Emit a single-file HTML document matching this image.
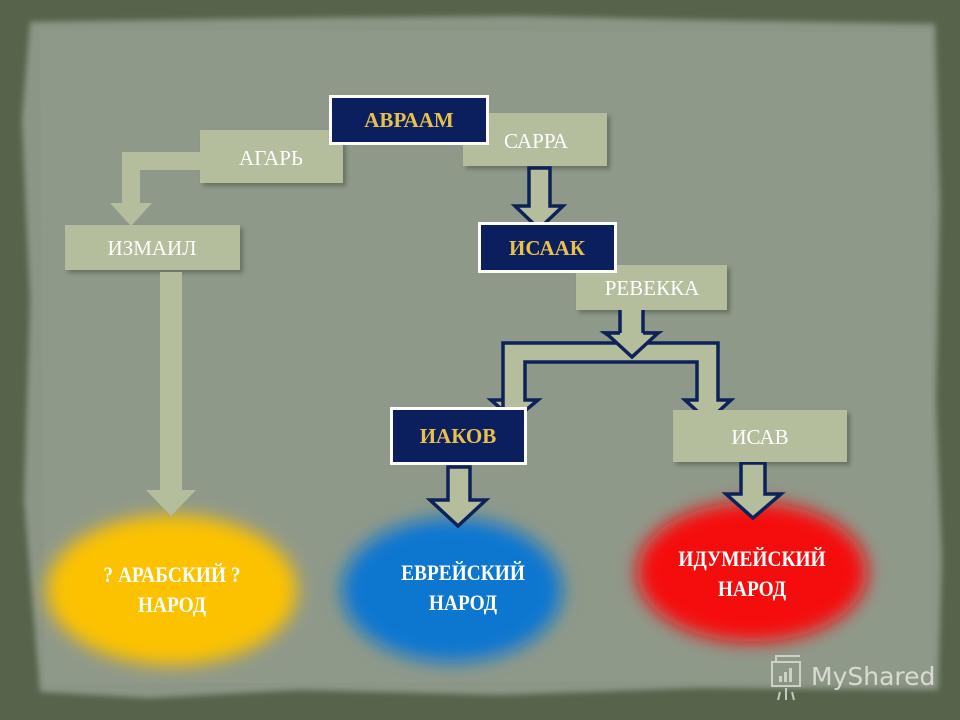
<!DOCTYPE html>
<html><head><meta charset="utf-8"><style>
html,body{margin:0;padding:0;background:#56644b;}
svg{display:block}
text{font-family:"Liberation Serif","DejaVu Serif",serif;}
</style></head><body>
<svg width="960" height="720" viewBox="0 0 960 720" xmlns="http://www.w3.org/2000/svg">
<defs>
<filter id="blur" x="-30%" y="-30%" width="160%" height="160%"><feGaussianBlur stdDeviation="9"/></filter>
<filter id="sh" x="-10%" y="-10%" width="130%" height="140%"><feGaussianBlur stdDeviation="2"/></filter>
<filter id="pb"><feGaussianBlur stdDeviation="3"/></filter>
</defs>
<rect width="960" height="720" fill="#56644b"/>
<path d="M30 22 L300 18 L520 16 L700 20 L935 24 L940 200 L936 400 L942 560 L938 690 L700 688 L500 695 L300 690 L150 698 L40 692 L24 500 L30 300 L22 120 Z" fill="#8c9687" filter="url(#pb)"/>
<path d="M40 30 L930 32 L932 680 L45 684 Z" fill="#8f998a"/>

<ellipse cx="172" cy="590" rx="125" ry="75" fill="#fcc200" filter="url(#blur)"/>
<ellipse cx="452" cy="590" rx="110" ry="72" fill="#1177d0" filter="url(#blur)"/>
<ellipse cx="752" cy="572" rx="115" ry="70" fill="#f50a0a" filter="url(#blur)"/>

<g filter="url(#sh)" fill="#4c5644" opacity="0.6">
<rect x="203" y="133" width="143" height="53"/><rect x="466" y="116" width="144" height="53"/>
<rect x="68" y="228" width="175" height="45"/><rect x="579" y="268" width="151" height="45"/>
<rect x="676" y="413" width="174" height="52"/>
</g>

<path d="M200 152 L122 152 L122 203 L110 203 L131 226 L152 203 L140 203 L140 170 L200 170 Z" fill="#b4be9c"/>
<path d="M160 272 L182 272 L182 490 L196 490 L171 516 L146 490 L160 490 Z" fill="#b4be9c"/>

<g fill="#b4be9c" stroke="#0c2258" stroke-width="3.5" stroke-linejoin="miter">
<path d="M529 168 L550 168 L550 206 L563 206 L539 229 L515 206 L529 206 Z"/>
<path d="M503 414 L503 343 L620 343 L605 333 L620 333 L620 305 L643 305 L643 333 L658 333 L643 343 L718 343 L718 400 L731 400 L708 421 L685 400 L697 400 L697 362 L525 362 L525 400 L538 400 L514 420 L491 400 L503 400"/>
<path d="M448 467 L470 467 L470 500 L486 500 L458 526 L430 500 L448 500 Z"/>
<path d="M741 463 L765 463 L765 494 L781 494 L753 518 L726 494 L741 494 Z"/>
</g>
<path d="M620 333 L606 333 L632 357 L658 333 L643 333" fill="#b4be9c" stroke="#0c2258" stroke-width="3.5"/>

<rect x="200" y="130" width="143" height="53" fill="#b4be9c"/>
<rect x="463" y="113" width="144" height="53" fill="#b4be9c"/>
<rect x="65" y="225" width="175" height="45" fill="#b4be9c"/>
<rect x="576" y="265" width="151" height="45" fill="#b4be9c"/>
<rect x="673" y="410" width="174" height="52" fill="#b4be9c"/>
<rect x="330.5" y="96.5" width="157" height="47" fill="#0b1f5e" stroke="#fff" stroke-width="3"/>
<rect x="479.5" y="223.5" width="136" height="48" fill="#0b1f5e" stroke="#fff" stroke-width="3"/>
<rect x="391.5" y="408.5" width="134" height="55" fill="#0b1f5e" stroke="#fff" stroke-width="3"/>

<g fill="#fff" font-size="21" text-anchor="middle">
<text x="271" y="165">АГАРЬ</text>
<text x="536" y="148">САРРА</text>
<text x="152" y="255">ИЗМАИЛ</text>
<text x="652" y="295">РЕВЕККА</text>
<text x="760" y="444">ИСАВ</text>
</g>
<g fill="#e8c04a" font-size="21" font-weight="bold" text-anchor="middle">
<text x="409" y="127">АВРААМ</text>
<text x="547" y="255">ИСААК</text>
<text x="458" y="443">ИАКОВ</text>
</g>

<g fill="#fff" font-size="22" font-weight="bold" text-anchor="middle">
<g transform="translate(172 0) scale(0.88 1)"><text x="0" y="582">? АРАБСКИЙ ?</text><text x="0" y="612">НАРОД</text></g>
<g transform="translate(463 0) scale(0.88 1)"><text x="0" y="580">ЕВРЕЙСКИЙ</text><text x="0" y="610">НАРОД</text></g>
<g transform="translate(752 0) scale(0.88 1)"><text x="0" y="566">ИДУМЕЙСКИЙ</text><text x="0" y="596">НАРОД</text></g>
</g>

<g stroke="#d8dcd4" stroke-width="2" fill="none" opacity="0.85">
<rect x="772" y="662" width="28" height="24"/>
<path d="M776 662 L776 656 L800 656"/>
<path d="M780 692 L778 700 M792 692 L794 700 M786 688 L786 700"/>
</g>
<g fill="#d8dcd4" opacity="0.85"><rect x="779" y="676" width="3" height="6"/><rect x="784" y="672" width="3" height="10"/><rect x="789" y="668" width="3" height="14"/></g>
<text x="811" y="685" fill="#e0e3dc" font-size="25" style='font-family:"DejaVu Sans","Liberation Sans",sans-serif' opacity="0.9">MyShared</text>
</svg>
</body></html>
